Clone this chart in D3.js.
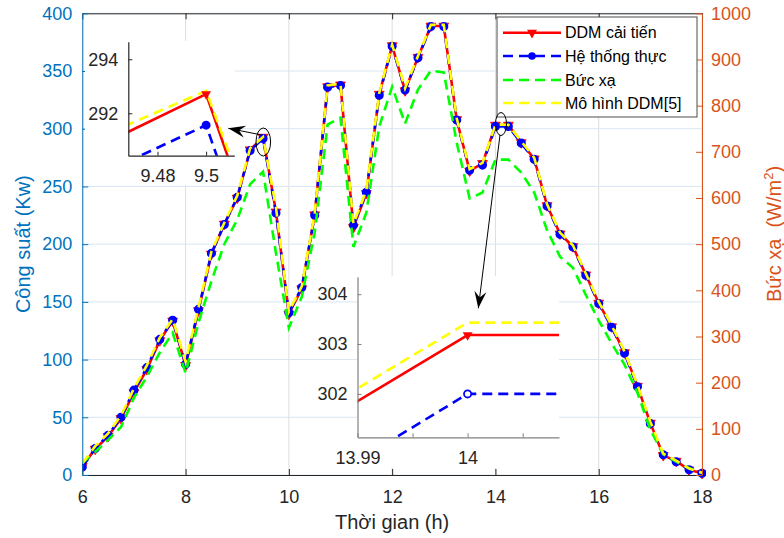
<!DOCTYPE html>
<html><head><meta charset="utf-8">
<script src="https://cdn.jsdelivr.net/npm/d3@7"></script>
<style>
body{margin:0;background:#fff}
svg{display:block}
text{font-family:"Liberation Sans",Arial,Helvetica,sans-serif}
</style>
</head><body>
<svg id="c" width="784" height="538"></svg>
<script>
// ---------- DATA ----------
const times = [6,6.25,6.5,6.75,7,7.25,7.5,7.75,8,8.25,8.5,8.75,9,9.25,9.5,9.75,10,10.25,10.5,10.75,11,11.25,11.5,11.75,12,12.25,12.5,12.75,13,13.25,13.5,13.75,14,14.25,14.5,14.75,15,15.25,15.5,15.75,16,16.25,16.5,16.75,17,17.25,17.5,17.75,18];
// DDM cải tiến (kW)
const ddmImproved = [7.5,22.5,33.5,49,71.5,91.5,116.5,133.5,95,142.5,191.5,217.5,240,281.8,292.71,228,139.5,161.5,225.5,336.5,338,214.5,244,330,372,333,362,389,389,308,263.5,270,303.18,303.18,288,274,233.5,209,198,173.5,149,128.5,106,77,45,17,12,4.5,1.5];
// Hệ thống thực (kW)
const realSystem = [7,23,34.5,50,73.5,93,117.5,134,96,143.5,192,217,240.5,281.1,291.56,227,140.5,162.5,225,336,337.5,216.5,245,329,371.5,333.5,361.5,388.5,388.5,307.5,264,268.5,302.0,302.0,287.5,273.5,233,208.5,197.5,173,148.5,128,105.5,76.5,44.5,17.5,11.5,4.5,1.5];
// Bức xạ (W/m2) - right axis
const irradiance = [26,50,76,104,167,213,265,308,221,330,420,500,553,630,657,481,319,386,525,759,774,494,568,755,841,761,835,876,872,720,599,612,683,683,655,612,530,473,449,390,335,285,239,178,98,45,29,15,4];
// Mô hình DDM[5] (kW)
const ddm5 = [10,25,36,51.5,75,95,119,135,98,145,193.5,218.5,242,283.1,292.83,232,141.5,163.5,227,337.5,339,217.5,246.5,331,373,335,363,390,390,309,265,270.4,303.43,303.43,289,275,234.5,210,199,174.5,150,129.5,107,78,46,18.5,12.5,5.5,2];

const xTicks = [6,8,10,12,14,16,18];
const yLeftTicks = [0,50,100,150,200,250,300,350,400];
const yRightTicks = [0,100,200,300,400,500,600,700,800,900,1000];
const legendLabels = ["DDM cải tiến","Hệ thống thực","Bức xạ","Mô hình DDM[5]"];
const inset1XTicks = [9.48,9.5], inset1XLabels = ["9.48","9.5"];
const inset1YTicks = [292,294];
const inset2XTicks = [13.99,13.995,14,14.005], inset2XLabels = ["13.99","","14",""];
const inset2YTicks = [302,303,304];

// ---------- SETUP ----------
const svg = d3.select("#c");
svg.append("rect").attr("width",784).attr("height",538).attr("fill","#fff");
const L=82.3, R=702, T=13.3, B=475;
const x = d3.scaleLinear().domain([6,18]).range([L,R]);
const yL = d3.scaleLinear().domain([0,400]).range([B,T]);
const yR = d3.scaleLinear().domain([0,1000]).range([B,T]);
const BLUEAX="#0072BD", ORANGE="#D95319", DARK="#262626";
const FS=18;

// grid
const g = svg.append("g");
xTicks.forEach(t=>{ g.append("line").attr("x1",x(t)).attr("x2",x(t)).attr("y1",T).attr("y2",B).attr("stroke","#dedede").attr("stroke-width",1); });
yLeftTicks.forEach(t=>{ g.append("line").attr("x1",L).attr("x2",R).attr("y1",yL(t)).attr("y2",yL(t)).attr("stroke","#d8e6f3").attr("stroke-width",1); });

svg.append("clipPath").attr("id","clipMain").append("rect").attr("x",L).attr("y",T-4).attr("width",R-L+4).attr("height",B-T+8);
const plot = svg.append("g").attr("clip-path","url(#clipMain)");

const COLORS = {red:"#ff0000", blue:"#0000ff", green:"#00ff00", yellow:"#ffff00"};
const LW=2.6, DASH="10,6";
const pts = arr => arr.map((v,i)=>[times[i],v]);
function lineGen(xs, ys){ return d3.line().x(d=>xs(d[0])).y(d=>ys(d[1])); }
const triSym = d3.symbol().type(d3.symbolTriangle).size(42);

function drawSeries(grp, xs, ysL, ysR, opts){
  const {withMarkers=true, openCircle=false} = opts||{};
  // red
  grp.append("path").attr("d",lineGen(xs,ysL)(pts(ddmImproved))).attr("fill","none").attr("stroke",COLORS.red).attr("stroke-width",LW).attr("stroke-linejoin","round");
  if(withMarkers){
    grp.selectAll(null).data(pts(ddmImproved)).enter().append("path").attr("d",triSym)
      .attr("transform",d=>`translate(${xs(d[0])},${ysL(d[1])}) rotate(180)`).attr("fill",COLORS.red).attr("stroke",COLORS.red).attr("stroke-width",0.8);
  }
  // blue
  grp.append("path").attr("d",lineGen(xs,ysL)(pts(realSystem))).attr("fill","none").attr("stroke",COLORS.blue).attr("stroke-width",LW).attr("stroke-dasharray",DASH);
  if(withMarkers){
    grp.selectAll(null).data(pts(realSystem)).enter().append("circle").attr("cx",d=>xs(d[0])).attr("cy",d=>ysL(d[1])).attr("r",3.8)
      .attr("fill",openCircle?"#fff":COLORS.blue).attr("stroke",COLORS.blue).attr("stroke-width",1.5);
  }
  // green
  if(ysR) grp.append("path").attr("d",lineGen(xs,ysR)(pts(irradiance))).attr("fill","none").attr("stroke",COLORS.green).attr("stroke-width",LW).attr("stroke-dasharray",DASH);
  // yellow
  grp.append("path").attr("d",lineGen(xs,ysL)(pts(ddm5))).attr("fill","none").attr("stroke",COLORS.yellow).attr("stroke-width",LW).attr("stroke-dasharray",DASH);
}
drawSeries(plot, x, yL, yR, {});

// ---------- AXES ----------
const axB = svg.append("g").attr("transform",`translate(0,${B})`)
  .call(d3.axisBottom(x).tickValues(xTicks).tickFormat(d3.format("d")).tickSizeInner(-6).tickSizeOuter(0).tickPadding(15));
axB.select(".domain").attr("stroke",DARK);
axB.selectAll(".tick line").attr("stroke",DARK);
axB.selectAll("text").attr("fill",DARK).attr("font-size",FS);
const axT = svg.append("g").attr("transform",`translate(0,${T})`)
  .call(d3.axisTop(x).tickValues(xTicks).tickFormat("").tickSizeInner(-6).tickSizeOuter(0));
axT.select(".domain").attr("stroke",DARK);
axT.selectAll(".tick line").attr("stroke",DARK);

const axLft = svg.append("g").attr("transform",`translate(${L},0)`)
  .call(d3.axisLeft(yL).tickValues(yLeftTicks).tickFormat(d3.format("d")).tickSizeInner(-6).tickSizeOuter(0).tickPadding(10));
axLft.select(".domain").attr("stroke",BLUEAX);
axLft.selectAll(".tick line").attr("stroke",BLUEAX);
axLft.selectAll("text").attr("fill",BLUEAX).attr("font-size",FS);

const axRgt = svg.append("g").attr("transform",`translate(${R},0)`)
  .call(d3.axisRight(yR).tickValues(yRightTicks).tickFormat(d3.format("d")).tickSizeInner(-6).tickSizeOuter(0).tickPadding(9));
axRgt.select(".domain").attr("stroke",ORANGE);
axRgt.selectAll(".tick line").attr("stroke",ORANGE);
axRgt.selectAll("text").attr("fill",ORANGE).attr("font-size",FS);

svg.selectAll(".domain").attr("stroke-width",1);

// axis labels
svg.append("text").attr("x",(L+R)/2).attr("y",529).attr("text-anchor","middle").attr("font-size",20).attr("fill",DARK).text("Thời gian (h)");
svg.append("text").attr("transform",`translate(30,${(T+B)/2}) rotate(-90)`).attr("text-anchor","middle").attr("font-size",20).attr("fill",BLUEAX).text("Công suất (Kw)");
const rl = svg.append("text").attr("transform",`translate(781,${234}) rotate(-90)`).attr("text-anchor","middle").attr("font-size",20).attr("fill",ORANGE).attr("xml:space","preserve");
rl.append("tspan").text("Bức xạ  (W/m");
rl.append("tspan").attr("font-size",13).attr("dy",-8).text("2");
rl.append("tspan").attr("dy",8).text(")");

// ---------- LEGEND ----------
const lg = svg.append("g");
lg.append("rect").attr("x",497).attr("y",17).attr("width",200).attr("height",100).attr("fill","#fff").attr("stroke","#4d4d4d").attr("stroke-width",1);
const legY = [32.7,56,80,103];
const legStyles = [
  {c:COLORS.red, dash:null, marker:"tri"},
  {c:COLORS.blue, dash:DASH, marker:"circ"},
  {c:COLORS.green, dash:DASH, marker:null},
  {c:COLORS.yellow, dash:DASH, marker:null}
];
legendLabels.forEach((lab,i)=>{
  const s = legStyles[i], yy = legY[i];
  const ln = lg.append("line").attr("x1",503).attr("x2",561).attr("y1",yy).attr("y2",yy).attr("stroke",s.c).attr("stroke-width",LW);
  if(s.dash) ln.attr("stroke-dasharray",s.dash);
  if(s.marker==="tri") lg.append("path").attr("d",triSym).attr("transform",`translate(532,${yy}) rotate(180)`).attr("fill",s.c);
  if(s.marker==="circ") lg.append("circle").attr("cx",532).attr("cy",yy).attr("r",3.8).attr("fill",s.c);
  lg.append("text").attr("x",565).attr("y",yy+5.6).attr("font-size",16).attr("fill","#000").text(lab);
});

// ---------- INSETS ----------
function drawInset(cfg){
  const gi = svg.append("g");
  gi.append("rect").attr("x",cfg.bg[0]).attr("y",cfg.bg[1]).attr("width",cfg.bg[2]).attr("height",cfg.bg[3]).attr("fill","#fff");
  const xs = d3.scaleLinear().domain(cfg.xd).range(cfg.xr);
  const ys = d3.scaleLinear().domain(cfg.yd).range(cfg.yr);
  const id = "clip"+cfg.id;
  svg.append("clipPath").attr("id",id).append("rect").attr("x",cfg.xr[0]).attr("y",cfg.yr[1]).attr("width",cfg.xr[1]-cfg.xr[0]).attr("height",cfg.yr[0]-cfg.yr[1]);
  const pg = gi.append("g").attr("clip-path",`url(#${id})`);
  drawSeries(pg, xs, ys, null, {withMarkers:false});
  // markers at the focus point
  const k = times.indexOf(cfg.focus);
  pg.append("path").attr("d",triSym).attr("transform",`translate(${xs(times[k])},${ys(ddmImproved[k])}) rotate(180)`).attr("fill",COLORS.red);
  pg.append("circle").attr("cx",xs(times[k])).attr("cy",ys(realSystem[k])).attr("r",3.6)
    .attr("fill",cfg.openCircle?"#fff":COLORS.blue).attr("stroke",COLORS.blue).attr("stroke-width",1.8);
  const ax = gi.append("g").attr("transform",`translate(0,${cfg.yr[0]})`)
    .call(d3.axisBottom(xs).tickValues(cfg.xt).tickFormat((d,i)=>cfg.xl[i]).tickSizeInner(-4).tickSizeOuter(0).tickPadding(cfg.xpad));
  const ay = gi.append("g").attr("transform",`translate(${cfg.xr[0]},0)`)
    .call(d3.axisLeft(ys).tickValues(cfg.yt).tickFormat(d3.format("d")).tickSizeInner(-4).tickSizeOuter(0).tickPadding(10));
  [ax,ay].forEach(a=>{
    a.select(".domain").attr("stroke",cfg.axc).attr("stroke-width",1.2);
    a.selectAll(".tick line").attr("stroke",cfg.axc);
    a.selectAll("text").attr("fill",DARK).attr("font-size",FS);
  });
}
drawInset({id:1, bg:[85,41,150,144], xd:[9.468,9.5116], xr:[128.3,234.3], yd:[290.43,294.65], yr:[155.7,41.7],
  xt:inset1XTicks, xl:inset1XLabels, yt:inset1YTicks, focus:9.5, openCircle:false, axc:"#262626", xpad:14});
drawInset({id:2, bg:[357,276,202,192], xd:[13.99,14.0083], xr:[357.5,559], yd:[301.13,304.35], yr:[437.3,276.7],
  xt:inset2XTicks, xl:inset2XLabels, yt:inset2YTicks, focus:14, openCircle:true, axc:"#808080", xpad:14});

// ---------- ANNOTATIONS ----------
svg.append("ellipse").attr("cx",263.3).attr("cy",142).attr("rx",7.3).attr("ry",14).attr("fill","none").attr("stroke","#000").attr("stroke-width",1);
svg.append("ellipse").attr("cx",501).attr("cy",124).attr("rx",5.5).attr("ry",11.5).attr("fill","none").attr("stroke","#000").attr("stroke-width",1);
function arrow(x1,y1,x2,y2){
  svg.append("line").attr("x1",x1).attr("y1",y1).attr("x2",x2).attr("y2",y2).attr("stroke","#000").attr("stroke-width",1);
  const a = Math.atan2(y2-y1,x2-x1), len=17, w=6, notch=11;
  const ux=Math.cos(a), uy=Math.sin(a), px=-uy, py=ux;
  const bx=x2-ux*len, by=y2-uy*len, nx=x2-ux*notch, ny=y2-uy*notch;
  svg.append("path").attr("d",`M${x2},${y2}L${bx+px*w},${by+py*w}L${nx},${ny}L${bx-px*w},${by-py*w}Z`).attr("fill","#000");
}
arrow(261.7,135,228.3,128.3);
arrow(500,135,478.3,308.3);
</script>
</body></html>
